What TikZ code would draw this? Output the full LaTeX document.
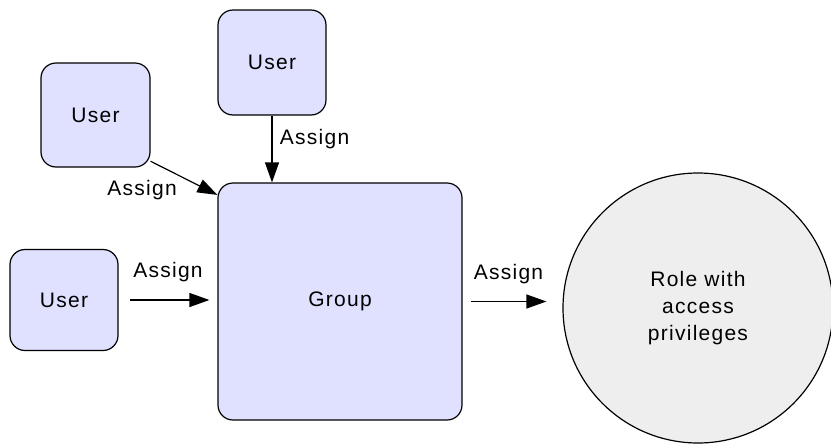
\documentclass[tikz,border=0pt]{standalone}
\usepackage{fontspec}
\setmainfont{Liberation Sans}[LetterSpace=6]
\usetikzlibrary{arrows.meta}
\definecolor{userfill}{RGB}{224,224,255}
\definecolor{rolefill}{RGB}{238,238,238}
\begin{document}
\begin{tikzpicture}[x=1pt,y=-1pt,
   font=\fontsize{21}{27}\selectfont,
   box/.style={draw,line width=1.2pt,fill=userfill,rounded corners=15pt,inner sep=0pt},
   assign/.style={line width=1.2pt,-{Triangle[length=20pt,width=14pt]}}]
   \useasboundingbox (0,0) rectangle (831,445);

   \node[box,minimum width=109pt,minimum height=104pt] (userA) at (95.5,115) {User};
   \node[box,minimum width=108pt,minimum height=105pt] (userB) at (272,62.5) {User};
   \node[box,minimum width=108pt,minimum height=101pt] (userC) at (64,300) {User};
   \node[box,minimum width=244pt,minimum height=237pt] (group) at (340,301.5) {Group};
   \node[draw,circle,line width=1.2pt,fill=rolefill,minimum size=270pt,align=center] (role) at (698,308) {Role with\\access\\privileges};

   \draw[assign] (userB.south) -- (userB.south |- group.north) node[right=4pt,pos=0.35]{Assign};
   \draw[assign] (userA.-40) -- (group.139) node[below left,pos=0.45]{Assign};
   \draw[assign,shorten <=11pt,shorten >=8pt] (userC.east) -- (userC.east -| group.west) node[above=14pt,midway]{Assign};
   \draw[assign,shorten <=8pt,shorten >=16pt] (group.east) -- (group.east -| role.west) node[above=14pt,pos=0.46]{Assign};

 \end{tikzpicture}
\end{document}
